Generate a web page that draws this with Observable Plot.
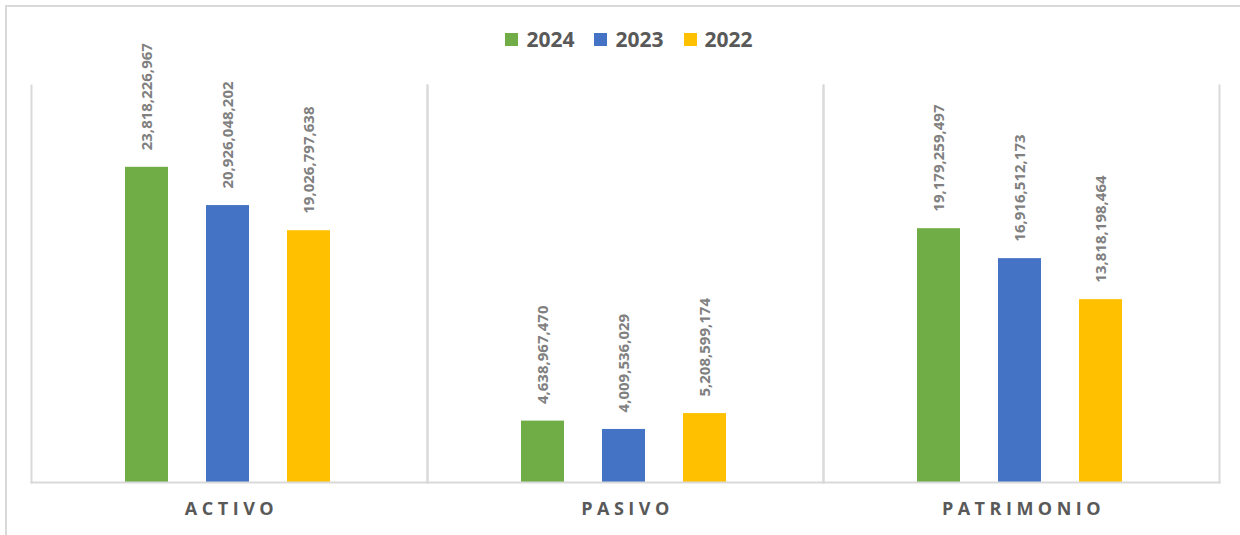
<!DOCTYPE html>
<html>
<head>
<meta charset="utf-8">
<script src="https://cdn.jsdelivr.net/npm/d3@7"></script>
<script src="https://cdn.jsdelivr.net/npm/@observablehq/plot@0.6"></script>
<style>
  html, body { margin: 0; padding: 0; background: #fff; }
  #wrap { position: relative; width: 1240px; height: 535px; overflow: hidden; font-family: "Open Sans", sans-serif; }
  #border { position: absolute; left: 5px; top: 5px; width: 1300px; height: 600px; border-top: 2px solid #d9d9d9; border-left: 2px solid #d9d9d9; }
  #legend { position: absolute; top: 25px; left: 0; width: 1258px; display: flex; justify-content: center; gap: 20px; font-weight: 700; font-size: 21px; color: #595959; }
  #legend .item { display: flex; align-items: center; gap: 8px; }
  #legend .sw { width: 13px; height: 13px; display: inline-block; }
  #chart { position: absolute; left: 0; top: 0; }
  g[aria-label="fx-axis tick label"] text { letter-spacing: 4.5px; }
</style>
</head>
<body>
<div id="wrap">
  <div id="border"></div>
  <div id="chart"></div>
  <div id="legend"></div>
</div>
<script>
const categories = ["ACTIVO", "PASIVO", "PATRIMONIO"];
const years = ["2024", "2023", "2022"];
const v2024 = [23818226967, 4638967470, 19179259497];
const v2023 = [20926048202, 4009536029, 16916512173];
const v2022 = [19026797638, 5208599174, 13818198464];
const colors = ["#70ad47", "#4472c4", "#ffc000"];

const seriesValues = [v2024, v2023, v2022];
const data = [];
categories.forEach((c, i) => {
  years.forEach((y, j) => {
    data.push({cat: c, year: y, value: seriesValues[j][i]});
  });
});

const fmt = d3.format(",");

const chart = Plot.plot({
  width: 1240,
  height: 535,
  marginTop: 85,
  marginBottom: 53,
  marginLeft: 30,
  marginRight: 20,
  style: {fontFamily: "Open Sans, sans-serif", background: "transparent"},
  fx: {domain: categories, padding: 0},
  x: {domain: years, paddingInner: 0.47, paddingOuter: 1.17, align: 0.49, axis: null},
  y: {domain: [0, 30e9], axis: null},
  color: {domain: years, range: colors},
  marks: [
    Plot.frame({anchor: "left", stroke: "#d9d9d9", strokeWidth: 2, strokeOpacity: 1}),
    Plot.frame({anchor: "right", stroke: "#d9d9d9", strokeWidth: 2, strokeOpacity: 1}),
    Plot.barY(data, {fx: "cat", x: "year", y: "value", fill: "year"}),
    Plot.frame({anchor: "bottom", stroke: "#d9d9d9", strokeWidth: 2, strokeOpacity: 1}),
    Plot.text(data, {
      fx: "cat", x: "year", y: "value",
      text: d => fmt(d.value),
      rotate: -90, textAnchor: "start", dy: -17,
      fill: "#808080", fontWeight: "bold", fontSize: 15,
      style: "letter-spacing:0.4px"
    }),
    Plot.axisFx({anchor: "bottom", tickSize: 0, tickPadding: 20, fontSize: 18, fontWeight: "bold", fill: "#595959", label: null, dx: 2})
  ]
});
document.getElementById("chart").appendChild(chart);

const legend = document.getElementById("legend");
years.forEach((y, j) => {
  const item = document.createElement("div");
  item.className = "item";
  const sw = document.createElement("span");
  sw.className = "sw";
  sw.style.background = colors[j];
  const t = document.createElement("span");
  t.textContent = y;
  item.appendChild(sw);
  item.appendChild(t);
  legend.appendChild(item);
});
</script>
</body>
</html>
